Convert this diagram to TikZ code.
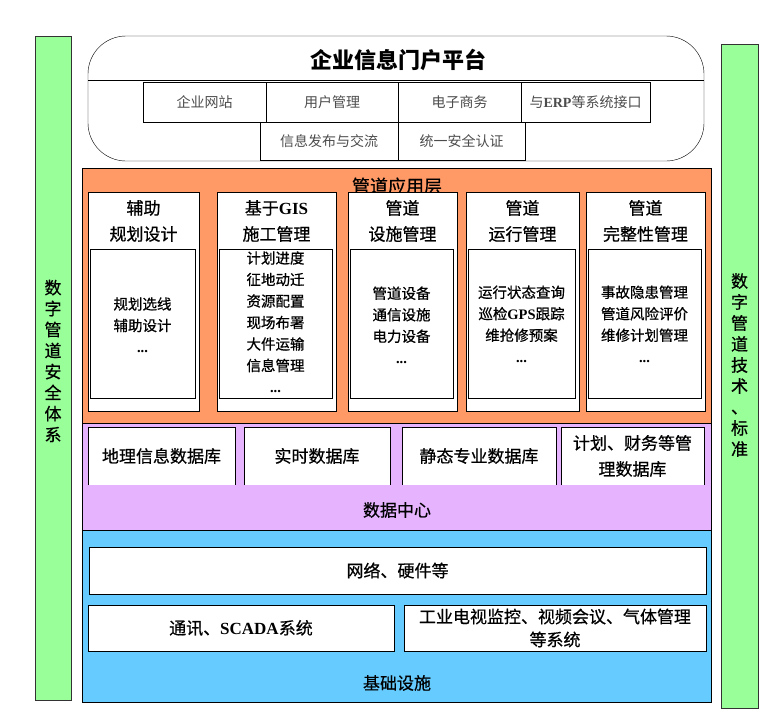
\documentclass[tikz,border=0pt]{standalone}
\usepackage{fontspec}
\setmainfont{Noto Sans CJK SC}
\newfontfamily\med[FakeBold=0.6]{Noto Sans CJK SC}
\newfontfamily\lat{Liberation Serif}
\usetikzlibrary{positioning}
\definecolor{layorange}{RGB}{255,153,102}
\definecolor{laypurple}{RGB}{230,180,255}
\definecolor{layblue}{RGB}{102,204,255}
\definecolor{laygreen}{RGB}{153,255,153}
\newcommand\fsz[2]{\fontsize{#1}{#2}\selectfont}

\begin{document}
\begin{tikzpicture}[x=1pt,y=-1pt,
  box/.style={draw,fill=white,inner sep=0pt,align=center},
  bar/.style={draw=black!80,fill=laygreen,inner sep=0pt},
  layer/.style={draw,inner sep=0pt},
  txt/.style={inner sep=0pt,align=center},
  pbox/.style={box,text=black!70,font=\fsz{14}{18}},
  colbox/.style={box,minimum height=219pt},
  inbox/.style={box,minimum height=149pt},
  coltitle/.style={txt,font=\med\fsz{17}{26}},
  coltext/.style={txt,font=\med\fsz{14.5}{21.5}},
  dbbox/.style={fill=white,inner sep=0pt,align=center,font=\med\fsz{17}{26},minimum height=58pt},
  infbox/.style={box,font=\med\fsz{17}{23}}]
\useasboundingbox (0,0) rectangle (780,720);

% side bars
\node[bar,minimum width=36pt,minimum height=664pt] (lbar) at (53,368) {};
\node[bar,minimum width=37pt,minimum height=664pt] (rbar) at (739.5,376) {};
\node[txt,font=\med\fsz{17}{21}] (lsafe) at (53,361) {数\\字\\管\\道\\安\\全\\体\\系};
\node[txt,font=\med\fsz{17}{21}] (rtech) at (739.5,365) {数\\字\\管\\道\\技\\术\\、\\标\\准};

% portal
\node[draw,rounded corners=38pt,minimum width=616pt,minimum height=125pt] (portal) at (396,98.5) {};
\node[txt,font=\fsz{22}{26}\bfseries] (ptitle) at (398,60) {企业信息门户平台};
\coordinate (sepl) at (88,80);
\coordinate (sepr) at (704,80);
\draw (sepl) -- (sepr);
\node[pbox,minimum width=123pt,minimum height=40pt] (web) at (204.5,102) {企业网站};
\node[pbox,minimum width=132pt,minimum height=40pt] (user) at (332,102) {用户管理};
\node[pbox,minimum width=123pt,minimum height=40pt] (ebiz) at (459.5,102) {电子商务};
\node[pbox,minimum width=129pt,minimum height=40pt] (erp) at (585.5,102) {与{\lat\bfseries ERP}等系统接口};
\node[pbox,minimum width=138pt,minimum height=38pt] (info) at (329,141) {信息发布与交流};
\node[pbox,minimum width=127pt,minimum height=38pt] (auth) at (461.5,141) {统一安全认证};

% application layer
\node[layer,fill=layorange,minimum width=629pt,minimum height=255pt] (app) at (396.5,295.5) {};
\node[txt,font=\med\fsz{18}{22}] (apptitle) at (397,186) {管道应用层};
\node[colbox,minimum width=111pt] (c1) at (143.5,301.5) {};
\node[colbox,minimum width=119pt] (c2) at (276.5,301.5) {};
\node[colbox,minimum width=109pt] (c3) at (402.5,301.5) {};
\node[colbox,minimum width=113pt] (c4) at (522.5,301.5) {};
\node[colbox,minimum width=119pt] (c5) at (645.5,301.5) {};
\node[inbox,minimum width=105pt] (i1) at (142.5,323.5) {};
\node[inbox,minimum width=113pt] (i2) at (275.5,323.5) {};
\node[inbox,minimum width=103pt] (i3) at (401.5,323.5) {};
\node[inbox,minimum width=107pt] (i4) at (521.5,323.5) {};
\node[inbox,minimum width=113pt] (i5) at (644.5,323.5) {};
\node[coltitle] (t1) at (143.5,221) {辅助\\规划设计};
\node[coltitle] (t2) at (276.5,221) {基于{\lat\bfseries GIS}\\施工管理};
\node[coltitle] (t3) at (402.5,221) {管道\\设施管理};
\node[coltitle] (t4) at (522.5,221) {管道\\运行管理};
\node[coltitle] (t5) at (645.5,221) {管道\\完整性管理};
\node[coltext] (x1) at (142.5,325) {规划选线\\辅助设计\\{\lat\bfseries ...}};
\node[coltext] (x2) at (275.5,322) {计划进度\\征地动迁\\资源配置\\现场布署\\大件运输\\信息管理\\{\lat\bfseries ...}};
\node[coltext] (x3) at (401.5,325) {管道设备\\通信设施\\电力设备\\{\lat\bfseries ...}};
\node[coltext] (x4) at (521.5,324) {运行状态查询\\巡检{\lat\bfseries GPS}跟踪\\维抢修预案\\{\lat\bfseries ...}};
\node[coltext] (x5) at (644.5,324) {事故隐患管理\\管道风险评价\\维修计划管理\\{\lat\bfseries ...}};

% data center
\node[layer,fill=laypurple,minimum width=629pt,minimum height=107pt] (data) at (396.5,476.5) {};
\node[dbbox,minimum width=147pt] (db1) at (161.5,456) {地理信息数据库};
\node[dbbox,minimum width=146pt] (db2) at (317,456) {实时数据库};
\node[dbbox,minimum width=154pt] (db3) at (479,456) {静态专业数据库};
\node[dbbox,minimum width=143pt] (db4) at (632.5,456) {计划、财务等管\\理数据库};
\draw (db1.south west) -- (db1.north west) -- (db1.north east) -- (db1.south east);
\draw (db2.south west) -- (db2.north west) -- (db2.north east) -- (db2.south east);
\draw (db3.south west) -- (db3.north west) -- (db3.north east) -- (db3.south east);
\draw (db4.south west) -- (db4.north west) -- (db4.north east) -- (db4.south east);
\node[txt,font=\med\fsz{17}{21}] (dctitle) at (397,510) {数据中心};

% infrastructure
\node[layer,fill=layblue,minimum width=629pt,minimum height=172pt] (infra) at (396.5,616) {};
\node[infbox,minimum width=617pt,minimum height=47pt] (net) at (397.5,570.5) {网络、硬件等};
\node[infbox,minimum width=306pt,minimum height=46pt] (scada) at (241,628) {通讯、{\lat\bfseries SCADA}系统};
\node[infbox,minimum width=302pt,minimum height=46pt] (cctv) at (555,628) {工业电视监控、视频会议、气体管理\\等系统};
\node[txt,font=\med\fsz{17}{21}] (inftitle) at (397,683) {基础设施};
\end{tikzpicture}
\end{document}
